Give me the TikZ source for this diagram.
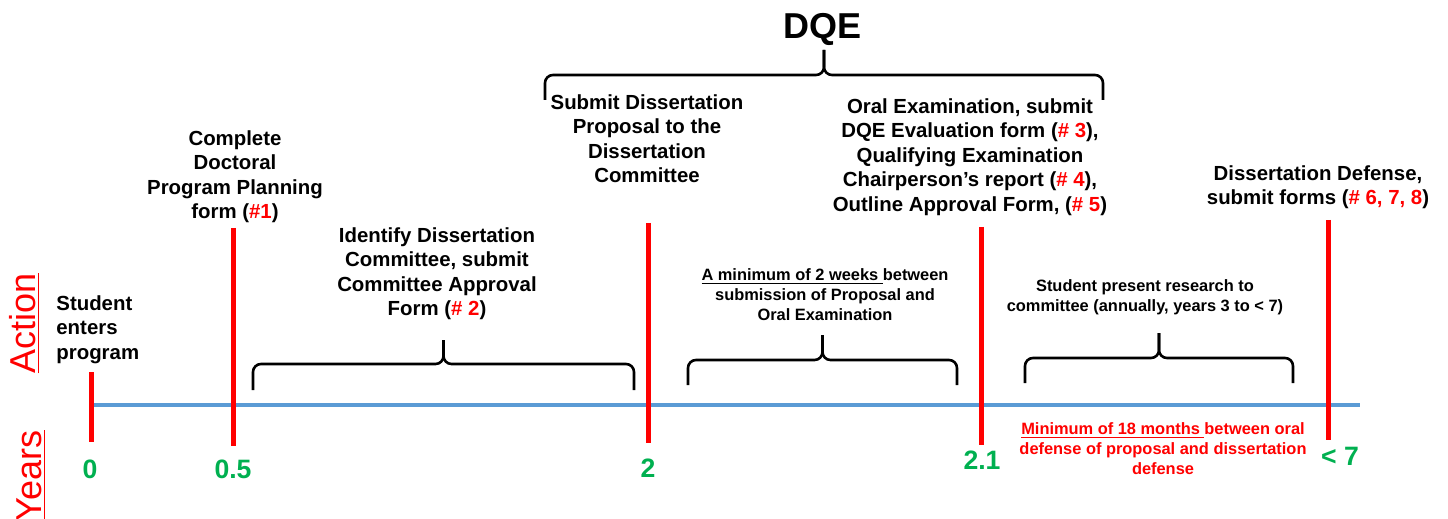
\documentclass[tikz,border=0pt]{standalone}
\usepackage{fontspec}
\setmainfont{Liberation Sans}
\usepackage{tikz}
\usetikzlibrary{calc}
\usepackage{xcolor}
\definecolor{axisblue}{HTML}{5B9BD5}
\definecolor{yeargreen}{HTML}{00B050}
\tikzstyle{axisline}=[draw=axisblue, line width=2.2pt]
\tikzstyle{tickline}=[draw=red, line width=2.5pt]
\tikzstyle{timebrace}=[draw=black, line width=1.3pt, rounded corners=4pt]
\tikzstyle{act}=[font=\fontsize{10.2}{12.25}\selectfont\bfseries, align=center, inner sep=0pt, anchor=north]
\tikzstyle{note}=[font=\fontsize{8.2}{10}\selectfont\bfseries, align=center, inner sep=0pt, anchor=north]
\tikzstyle{yr}=[text=yeargreen, font=\fontsize{13.3}{16}\selectfont\bfseries, inner sep=0pt, anchor=north]
\tikzstyle{side}=[text=red, font=\fontsize{18}{20}\selectfont, rotate=90, inner sep=0pt, anchor=base east]
\newcommand{\formno}[1]{\textcolor{red}{#1}}

\begin{document}
\begin{tikzpicture}[x=0.5pt,y=-0.5pt]
\useasboundingbox (0,0) rectangle (1448,519);
\coordinate (axisstart) at (91,405);
\coordinate (axisend) at (1360,405);
\draw[axisline] (axisstart) -- (axisend);
% ticks and years
\foreach \x/\yt/\yb/\n/\lx/\ly/\lbl in {91/372/442/y0/90/460/0, 233/228/446/y1/233/460/0.5, 648/223/443/y2/648/459/2, 981/227/445/y3/982/451/2.1, 1328/220/440/y4/1340/447/{< 7}} {
	\coordinate (\n top) at (\x,\yt);
	\coordinate (\n bot) at (\x,\yb);
	\draw[tickline] (\n top) -- (\n bot);
	\node[yr] (\n lbl) at (\lx,\ly) {\lbl};
}
% braces
\foreach \xa/\xb/\yb/\yf/\yt in {253/634/390/364/340, 688/957/385/360/335, 1025/1293/383/358/333, 545/1103/100/75/50} {
	\draw[timebrace] (\xa,\yb) |- ({(\xa+\xb)/2},\yf) -- ({(\xa+\xb)/2},\yt);
	\draw[timebrace] (\xb,\yb) |- ({(\xa+\xb)/2},\yf) -- ({(\xa+\xb)/2},\yt);
}
\node[font=\fontsize{18}{20}\selectfont\bfseries, inner sep=0pt, anchor=north] (dqe) at (823,13) {DQE};
\node[act, anchor=north west, align=left] (enter) at (56,295) {Student\\enters\\program};
\node[act] (plan) at (235,130) {Complete\\Doctoral\\Program Planning\\form (\formno{\#1})};
\node[act] (committee) at (437,227) {Identify Dissertation\\Committee, submit\\Committee Approval\\Form (\formno{\# 2})};
\node[act] (proposal) at (647,94) {Submit Dissertation\\Proposal to the\\Dissertation\\Committee};
\node[act] (oral) at (970,98) {Oral Examination, submit\\DQE Evaluation form (\formno{\# 3}),\\Qualifying Examination\\Chairperson’s report (\formno{\# 4}),\\Outline Approval Form, (\formno{\# 5})};
\node[act] (defense) at (1318,165) {Dissertation Defense,\\submit forms (\formno{\# 6, 7, 8})};
\node[note] (gap) at (825,268) {\underline{A minimum of 2 weeks }between\\submission of Proposal and\\Oral Examination};
\node[note] (annual) at (1145,279) {Student present research to\\committee (annually, years 3 to < 7)};
\node[note, text=red] (eighteen) at (1163,422) {\underline{Minimum of 18 months }between oral\\defense of proposal and dissertation\\defense};
\node[side] (action) at (35,273) {\underline{Action}};
\node[side] (years) at (41,430) {\underline{Years}};
\end{tikzpicture}
\end{document}
